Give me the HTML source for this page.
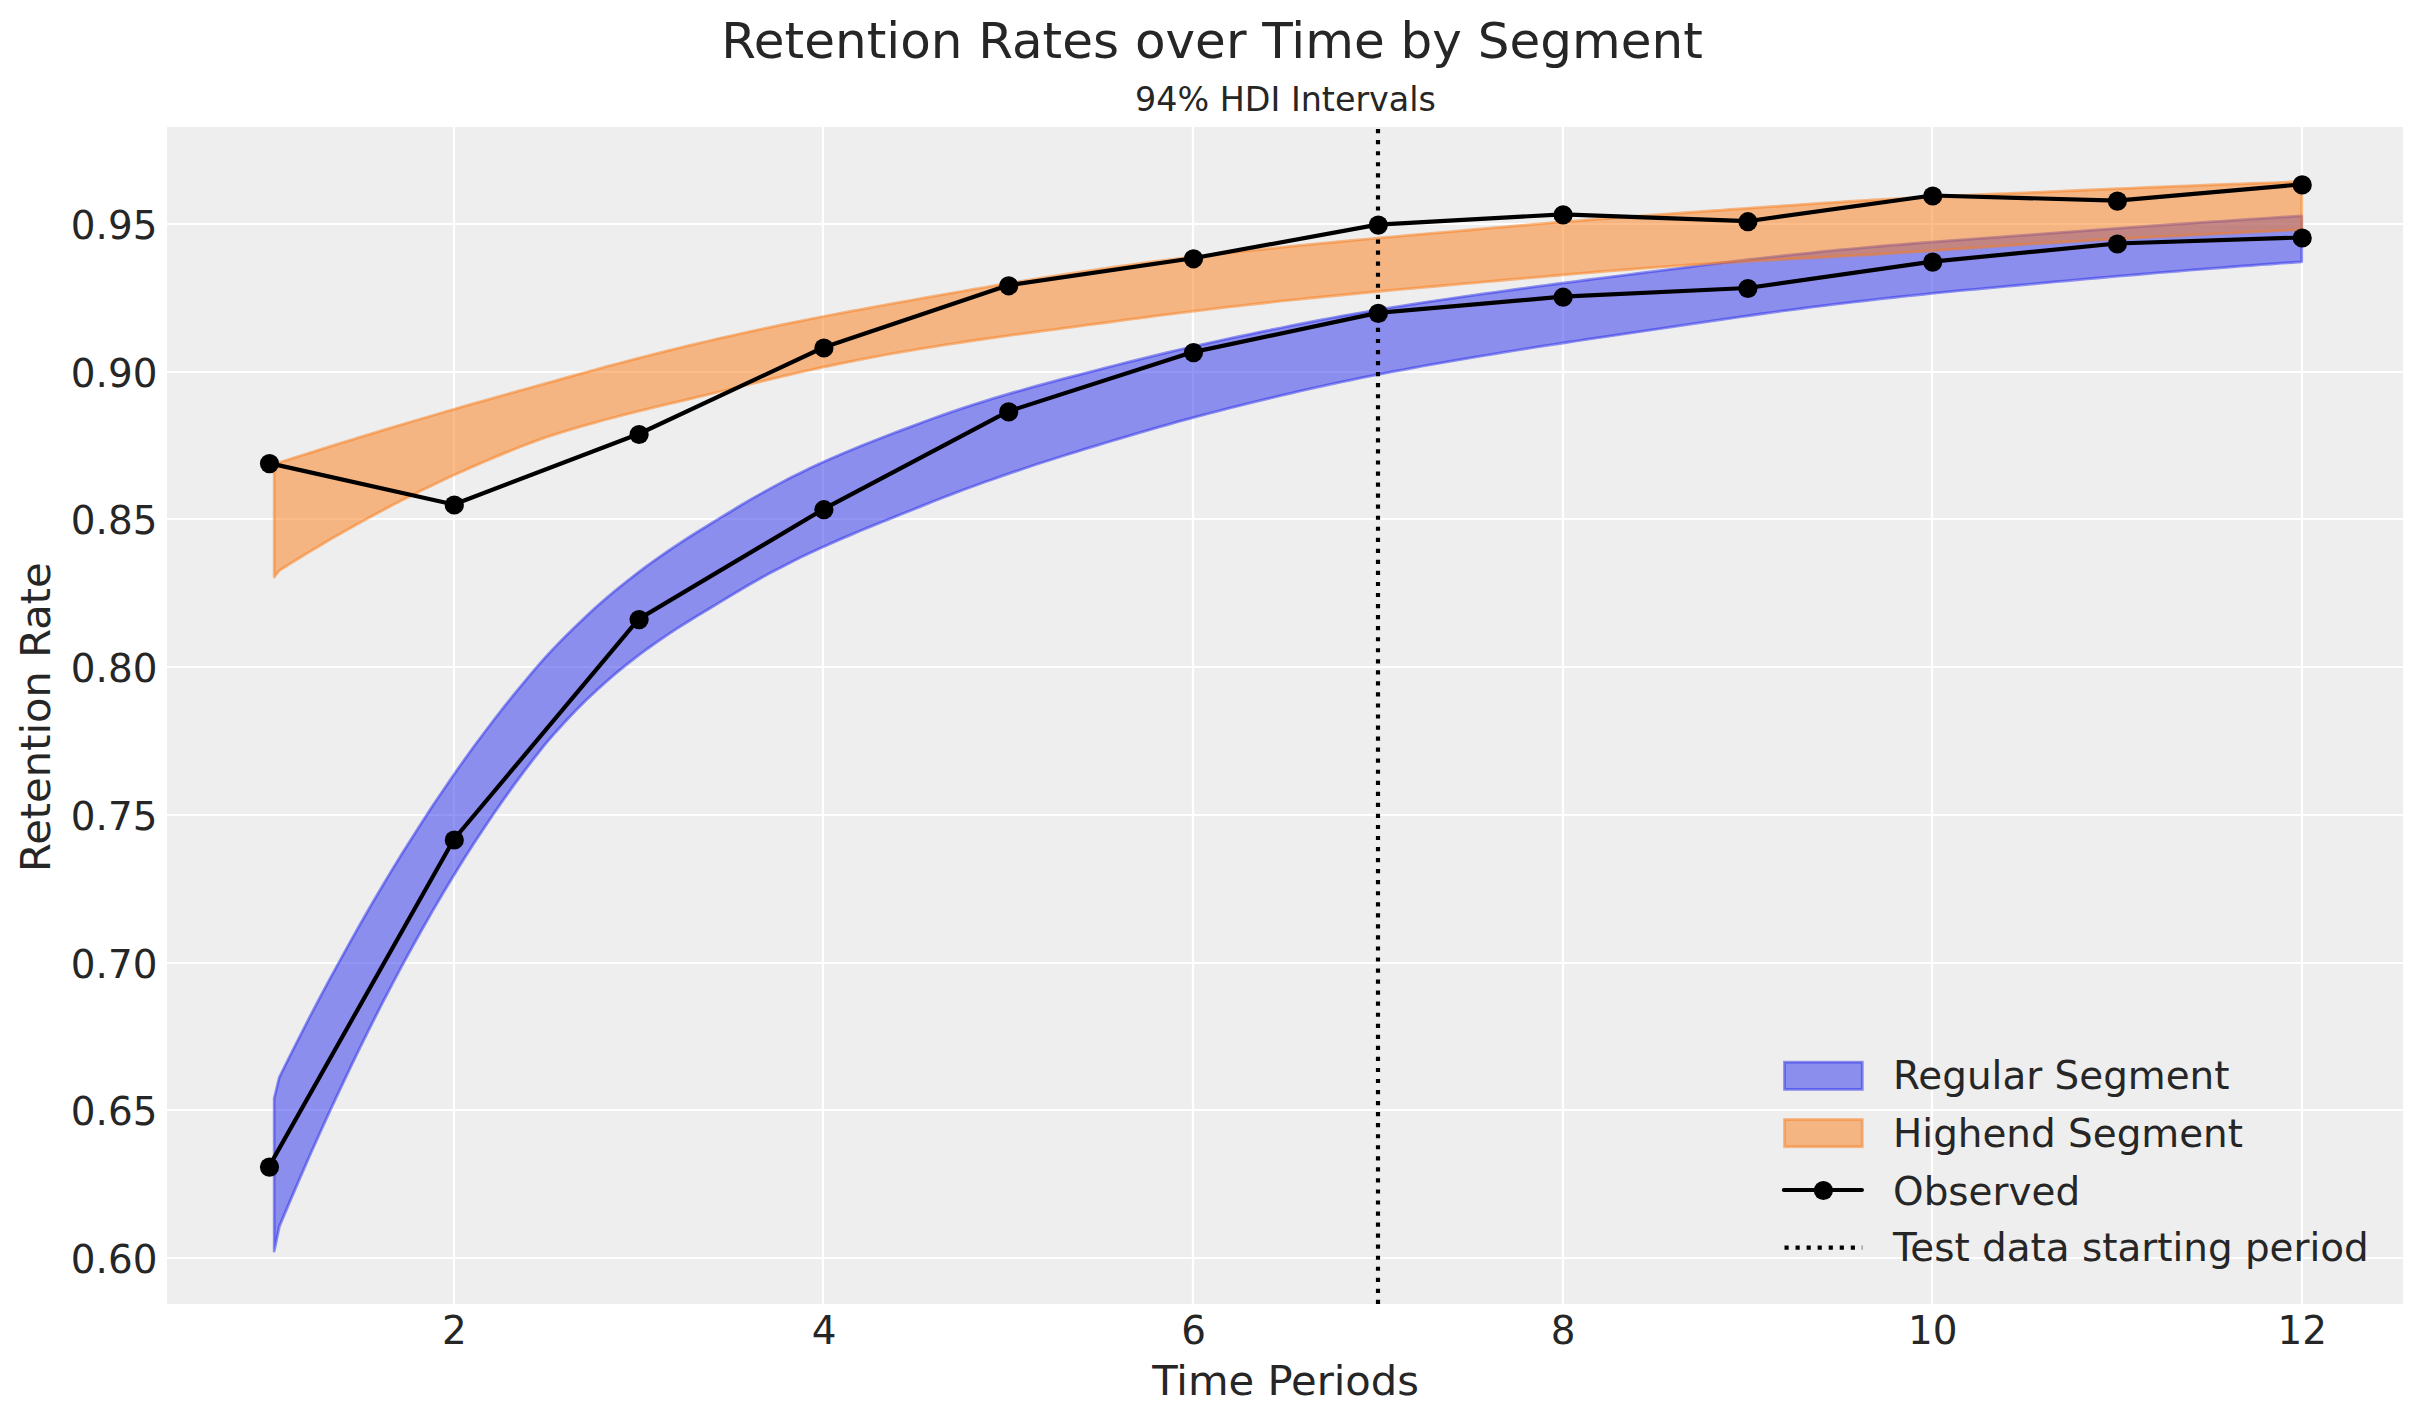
<!DOCTYPE html>
<html><head><meta charset="utf-8"><title>Retention Rates over Time by Segment</title>
<style>html,body{margin:0;padding:0;background:#fff}svg{display:block}text{font-family:"DejaVu Sans","Liberation Sans",sans-serif;fill:#262626}</style></head>
<body>
<svg width="2423" height="1423" viewBox="0 0 2423 1423">
<rect x="0" y="0" width="2423" height="1423" fill="#ffffff"/>
<rect x="167.0" y="127.0" width="2236.0" height="1177.0" fill="#eeeeee"/>
<clipPath id="ax"><rect x="167.0" y="127.0" width="2236.0" height="1177.0"/></clipPath>
<path d="M454 127.0V1304.0M823 127.0V1304.0M1193 127.0V1304.0M1563 127.0V1304.0M1932 127.0V1304.0M2302 127.0V1304.0M167.0 1258H2403.0M167.0 1110H2403.0M167.0 963H2403.0M167.0 815H2403.0M167.0 667H2403.0M167.0 519H2403.0M167.0 372H2403.0M167.0 224H2403.0" stroke="#ffffff" stroke-width="2.22" fill="none"/>
<g clip-path="url(#ax)">
<path d="M274.2 1098.3 L279.3 1077.3 L289.5 1056.8 L299.7 1036.6 L309.9 1016.7 L320.1 997.2 L330.3 978.1 L340.6 959.3 L350.8 940.8 L361.0 922.8 L371.2 905.0 L381.4 887.7 L391.6 870.6 L401.8 854.0 L412.1 837.7 L422.3 821.7 L432.5 806.1 L442.7 790.9 L452.9 776.0 L463.1 761.5 L473.3 747.3 L483.6 733.5 L493.8 720.0 L504.0 706.9 L514.2 694.2 L524.4 681.8 L534.6 669.7 L544.8 658.0 L555.1 646.9 L565.3 636.5 L575.5 626.4 L585.7 616.7 L595.9 607.3 L606.1 598.4 L616.3 589.8 L626.6 581.5 L636.8 573.6 L647.0 565.9 L657.2 558.6 L667.4 551.5 L677.6 544.7 L687.8 538.0 L698.1 531.5 L708.3 525.2 L718.5 518.9 L728.7 512.7 L738.9 506.5 L749.1 500.4 L759.3 494.6 L769.6 488.9 L779.8 483.4 L790.0 478.1 L800.2 473.0 L810.4 468.1 L820.6 463.3 L830.8 458.7 L841.1 454.3 L851.3 450.0 L861.5 445.8 L871.7 441.7 L881.9 437.7 L892.1 433.8 L902.4 429.9 L912.6 426.1 L922.8 422.3 L933.0 418.5 L943.2 414.9 L953.4 411.4 L963.6 407.9 L973.9 404.6 L984.1 401.4 L994.3 398.2 L1004.5 395.2 L1014.7 392.2 L1024.9 389.3 L1035.1 386.4 L1045.4 383.7 L1055.6 380.9 L1065.8 378.2 L1076.0 375.6 L1086.2 372.9 L1096.4 370.3 L1106.6 367.7 L1116.9 365.0 L1127.1 362.4 L1137.3 359.9 L1147.5 357.4 L1157.7 354.9 L1167.9 352.4 L1178.1 350.0 L1188.4 347.7 L1198.6 345.4 L1208.8 343.1 L1219.0 340.8 L1229.2 338.6 L1239.4 336.4 L1249.6 334.3 L1259.9 332.1 L1270.1 330.0 L1280.3 328.0 L1290.5 325.9 L1300.7 323.9 L1310.9 321.9 L1321.1 319.9 L1331.4 318.0 L1341.6 316.1 L1351.8 314.3 L1362.0 312.5 L1372.2 310.8 L1382.4 309.1 L1392.6 307.4 L1402.9 305.8 L1413.1 304.2 L1423.3 302.6 L1433.5 301.1 L1443.7 299.6 L1453.9 298.1 L1464.1 296.6 L1474.4 295.2 L1484.6 293.7 L1494.8 292.3 L1505.0 290.9 L1515.2 289.5 L1525.4 288.1 L1535.7 286.7 L1545.9 285.4 L1556.1 284.0 L1566.3 282.7 L1576.5 281.4 L1586.7 280.0 L1596.9 278.7 L1607.2 277.4 L1617.4 276.1 L1627.6 274.8 L1637.8 273.5 L1648.0 272.2 L1658.2 270.9 L1668.4 269.6 L1678.7 268.3 L1688.9 267.0 L1699.1 265.7 L1709.3 264.4 L1719.5 263.2 L1729.7 261.9 L1739.9 260.7 L1750.2 259.5 L1760.4 258.3 L1770.6 257.2 L1780.8 256.0 L1791.0 254.9 L1801.2 253.8 L1811.4 252.8 L1821.7 251.7 L1831.9 250.7 L1842.1 249.7 L1852.3 248.8 L1862.5 247.8 L1872.7 246.9 L1882.9 246.0 L1893.2 245.2 L1903.4 244.3 L1913.6 243.5 L1923.8 242.7 L1934.0 241.9 L1944.2 241.1 L1954.4 240.3 L1964.7 239.6 L1974.9 238.8 L1985.1 238.1 L1995.3 237.4 L2005.5 236.6 L2015.7 235.9 L2025.9 235.1 L2036.2 234.4 L2046.4 233.6 L2056.6 232.8 L2066.8 232.1 L2077.0 231.3 L2087.2 230.6 L2097.4 229.8 L2107.7 229.1 L2117.9 228.3 L2128.1 227.6 L2138.3 226.9 L2148.5 226.2 L2158.7 225.4 L2169.0 224.7 L2179.2 224.0 L2189.4 223.3 L2199.6 222.6 L2209.8 221.9 L2220.0 221.3 L2230.2 220.6 L2240.5 219.9 L2250.7 219.2 L2260.9 218.6 L2271.1 217.9 L2281.3 217.2 L2291.5 216.6 L2301.7 215.9 L2301.7 261.8 L2291.5 262.5 L2281.3 263.2 L2271.1 264.0 L2260.9 264.7 L2250.7 265.5 L2240.5 266.2 L2230.2 267.0 L2220.0 267.8 L2209.8 268.6 L2199.6 269.4 L2189.4 270.2 L2179.2 271.1 L2169.0 271.9 L2158.7 272.7 L2148.5 273.6 L2138.3 274.5 L2128.1 275.3 L2117.9 276.2 L2107.7 277.1 L2097.4 278.0 L2087.2 278.9 L2077.0 279.8 L2066.8 280.8 L2056.6 281.7 L2046.4 282.7 L2036.2 283.6 L2025.9 284.6 L2015.7 285.5 L2005.5 286.4 L1995.3 287.4 L1985.1 288.3 L1974.9 289.3 L1964.7 290.2 L1954.4 291.2 L1944.2 292.2 L1934.0 293.2 L1923.8 294.3 L1913.6 295.3 L1903.4 296.4 L1893.2 297.5 L1882.9 298.6 L1872.7 299.8 L1862.5 301.0 L1852.3 302.2 L1842.1 303.4 L1831.9 304.6 L1821.7 305.9 L1811.4 307.2 L1801.2 308.5 L1791.0 309.9 L1780.8 311.2 L1770.6 312.6 L1760.4 314.0 L1750.2 315.5 L1739.9 316.9 L1729.7 318.4 L1719.5 319.8 L1709.3 321.3 L1699.1 322.8 L1688.9 324.3 L1678.7 325.8 L1668.4 327.4 L1658.2 328.9 L1648.0 330.4 L1637.8 331.9 L1627.6 333.4 L1617.4 334.9 L1607.2 336.4 L1596.9 337.9 L1586.7 339.4 L1576.5 341.0 L1566.3 342.5 L1556.1 344.1 L1545.9 345.6 L1535.7 347.2 L1525.4 348.8 L1515.2 350.5 L1505.0 352.1 L1494.8 353.8 L1484.6 355.5 L1474.4 357.2 L1464.1 358.9 L1453.9 360.7 L1443.7 362.4 L1433.5 364.2 L1423.3 366.0 L1413.1 367.9 L1402.9 369.8 L1392.6 371.7 L1382.4 373.7 L1372.2 375.7 L1362.0 377.7 L1351.8 379.8 L1341.6 381.9 L1331.4 384.1 L1321.1 386.3 L1310.9 388.6 L1300.7 390.9 L1290.5 393.3 L1280.3 395.7 L1270.1 398.2 L1259.9 400.6 L1249.6 403.1 L1239.4 405.7 L1229.2 408.2 L1219.0 410.8 L1208.8 413.5 L1198.6 416.2 L1188.4 418.9 L1178.1 421.7 L1167.9 424.6 L1157.7 427.4 L1147.5 430.4 L1137.3 433.3 L1127.1 436.4 L1116.9 439.4 L1106.6 442.5 L1096.4 445.6 L1086.2 448.7 L1076.0 451.9 L1065.8 455.0 L1055.6 458.3 L1045.4 461.5 L1035.1 464.8 L1024.9 468.2 L1014.7 471.6 L1004.5 475.1 L994.3 478.7 L984.1 482.3 L973.9 486.0 L963.6 489.8 L953.4 493.6 L943.2 497.5 L933.0 501.5 L922.8 505.6 L912.6 509.8 L902.4 513.8 L892.1 517.9 L881.9 522.0 L871.7 526.1 L861.5 530.3 L851.3 534.6 L841.1 538.9 L830.8 543.4 L820.6 548.0 L810.4 552.7 L800.2 557.6 L790.0 562.7 L779.8 567.9 L769.6 573.3 L759.3 579.0 L749.1 584.8 L738.9 590.8 L728.7 596.9 L718.5 603.1 L708.3 609.2 L698.1 615.4 L687.8 621.7 L677.6 628.1 L667.4 634.8 L657.2 641.8 L647.0 649.0 L636.8 656.6 L626.6 664.6 L616.3 672.9 L606.1 681.7 L595.9 690.9 L585.7 700.6 L575.5 710.8 L565.3 721.5 L555.1 732.7 L544.8 744.7 L534.6 757.6 L524.4 770.9 L514.2 784.6 L504.0 798.9 L493.8 813.5 L483.6 828.7 L473.3 844.3 L463.1 860.3 L452.9 876.8 L442.7 893.7 L432.5 911.1 L422.3 929.0 L412.1 947.3 L401.8 966.1 L391.6 985.3 L381.4 1004.9 L371.2 1025.1 L361.0 1045.6 L350.8 1066.7 L340.6 1088.2 L330.3 1110.1 L320.1 1132.5 L309.9 1155.3 L299.7 1178.6 L289.5 1202.4 L279.3 1226.6 L274.2 1251.2Z" fill="#2a2eec" fill-opacity="0.5" stroke="#2a2eec" stroke-opacity="0.5" stroke-width="2.78" stroke-linejoin="round"/>
<path d="M274.2 465.8 L279.3 462.5 L289.5 459.3 L299.7 456.0 L309.9 452.8 L320.1 449.6 L330.3 446.4 L340.6 443.2 L350.8 440.1 L361.0 436.9 L371.2 433.8 L381.4 430.7 L391.6 427.6 L401.8 424.6 L412.1 421.5 L422.3 418.5 L432.5 415.5 L442.7 412.5 L452.9 409.6 L463.1 406.6 L473.3 403.7 L483.6 400.8 L493.8 397.9 L504.0 395.0 L514.2 392.2 L524.4 389.3 L534.6 386.5 L544.8 383.7 L555.1 380.8 L565.3 377.9 L575.5 375.1 L585.7 372.3 L595.9 369.5 L606.1 366.7 L616.3 364.0 L626.6 361.3 L636.8 358.6 L647.0 356.0 L657.2 353.4 L667.4 350.8 L677.6 348.3 L687.8 345.8 L698.1 343.4 L708.3 341.0 L718.5 338.6 L728.7 336.3 L738.9 334.0 L749.1 331.8 L759.3 329.6 L769.6 327.4 L779.8 325.2 L790.0 323.1 L800.2 321.1 L810.4 319.0 L820.6 317.0 L830.8 315.0 L841.1 313.1 L851.3 311.2 L861.5 309.3 L871.7 307.4 L881.9 305.5 L892.1 303.7 L902.4 301.8 L912.6 300.0 L922.8 298.2 L933.0 296.4 L943.2 294.6 L953.4 292.8 L963.6 291.0 L973.9 289.2 L984.1 287.5 L994.3 285.7 L1004.5 284.0 L1014.7 282.3 L1024.9 280.7 L1035.1 279.0 L1045.4 277.4 L1055.6 275.8 L1065.8 274.2 L1076.0 272.7 L1086.2 271.2 L1096.4 269.7 L1106.6 268.2 L1116.9 266.7 L1127.1 265.3 L1137.3 263.9 L1147.5 262.5 L1157.7 261.2 L1167.9 259.9 L1178.1 258.7 L1188.4 257.4 L1198.6 256.2 L1208.8 255.0 L1219.0 253.9 L1229.2 252.8 L1239.4 251.6 L1249.6 250.6 L1259.9 249.5 L1270.1 248.5 L1280.3 247.4 L1290.5 246.4 L1300.7 245.4 L1310.9 244.4 L1321.1 243.4 L1331.4 242.5 L1341.6 241.5 L1351.8 240.5 L1362.0 239.6 L1372.2 238.7 L1382.4 237.7 L1392.6 236.8 L1402.9 235.9 L1413.1 235.0 L1423.3 234.1 L1433.5 233.2 L1443.7 232.3 L1453.9 231.4 L1464.1 230.5 L1474.4 229.5 L1484.6 228.6 L1494.8 227.7 L1505.0 226.8 L1515.2 225.9 L1525.4 225.1 L1535.7 224.2 L1545.9 223.3 L1556.1 222.5 L1566.3 221.7 L1576.5 220.9 L1586.7 220.0 L1596.9 219.2 L1607.2 218.5 L1617.4 217.7 L1627.6 216.9 L1637.8 216.2 L1648.0 215.4 L1658.2 214.7 L1668.4 214.0 L1678.7 213.2 L1688.9 212.5 L1699.1 211.7 L1709.3 211.0 L1719.5 210.3 L1729.7 209.5 L1739.9 208.8 L1750.2 208.1 L1760.4 207.4 L1770.6 206.7 L1780.8 206.0 L1791.0 205.3 L1801.2 204.6 L1811.4 203.9 L1821.7 203.2 L1831.9 202.6 L1842.1 201.9 L1852.3 201.2 L1862.5 200.6 L1872.7 200.0 L1882.9 199.4 L1893.2 198.8 L1903.4 198.3 L1913.6 197.8 L1923.8 197.2 L1934.0 196.7 L1944.2 196.2 L1954.4 195.8 L1964.7 195.3 L1974.9 194.9 L1985.1 194.4 L1995.3 194.0 L2005.5 193.6 L2015.7 193.2 L2025.9 192.8 L2036.2 192.3 L2046.4 191.8 L2056.6 191.4 L2066.8 190.9 L2077.0 190.5 L2087.2 190.0 L2097.4 189.6 L2107.7 189.1 L2117.9 188.7 L2128.1 188.3 L2138.3 187.8 L2148.5 187.4 L2158.7 187.0 L2169.0 186.6 L2179.2 186.2 L2189.4 185.8 L2199.6 185.4 L2209.8 185.0 L2220.0 184.6 L2230.2 184.2 L2240.5 183.9 L2250.7 183.5 L2260.9 183.1 L2271.1 182.8 L2281.3 182.4 L2291.5 182.0 L2301.7 181.7 L2301.7 229.8 L2291.5 230.2 L2281.3 230.7 L2271.1 231.2 L2260.9 231.7 L2250.7 232.2 L2240.5 232.7 L2230.2 233.2 L2220.0 233.7 L2209.8 234.2 L2199.6 234.7 L2189.4 235.2 L2179.2 235.8 L2169.0 236.3 L2158.7 236.8 L2148.5 237.4 L2138.3 237.9 L2128.1 238.5 L2117.9 239.0 L2107.7 239.6 L2097.4 240.2 L2087.2 240.7 L2077.0 241.3 L2066.8 241.9 L2056.6 242.5 L2046.4 243.1 L2036.2 243.7 L2025.9 244.3 L2015.7 245.0 L2005.5 245.7 L1995.3 246.4 L1985.1 247.1 L1974.9 247.8 L1964.7 248.5 L1954.4 249.2 L1944.2 249.9 L1934.0 250.6 L1923.8 251.3 L1913.6 251.9 L1903.4 252.6 L1893.2 253.2 L1882.9 253.9 L1872.7 254.5 L1862.5 255.1 L1852.3 255.7 L1842.1 256.2 L1831.9 256.8 L1821.7 257.3 L1811.4 257.9 L1801.2 258.4 L1791.0 258.9 L1780.8 259.5 L1770.6 260.1 L1760.4 260.6 L1750.2 261.2 L1739.9 261.8 L1729.7 262.4 L1719.5 263.0 L1709.3 263.6 L1699.1 264.3 L1688.9 264.9 L1678.7 265.6 L1668.4 266.4 L1658.2 267.1 L1648.0 267.9 L1637.8 268.7 L1627.6 269.5 L1617.4 270.3 L1607.2 271.1 L1596.9 272.0 L1586.7 272.9 L1576.5 273.7 L1566.3 274.6 L1556.1 275.5 L1545.9 276.4 L1535.7 277.3 L1525.4 278.2 L1515.2 279.1 L1505.0 280.0 L1494.8 281.0 L1484.6 281.9 L1474.4 282.8 L1464.1 283.7 L1453.9 284.6 L1443.7 285.5 L1433.5 286.5 L1423.3 287.4 L1413.1 288.3 L1402.9 289.2 L1392.6 290.1 L1382.4 291.1 L1372.2 292.0 L1362.0 293.0 L1351.8 294.0 L1341.6 295.0 L1331.4 296.0 L1321.1 297.0 L1310.9 298.0 L1300.7 299.1 L1290.5 300.2 L1280.3 301.2 L1270.1 302.3 L1259.9 303.5 L1249.6 304.6 L1239.4 305.8 L1229.2 306.9 L1219.0 308.1 L1208.8 309.3 L1198.6 310.6 L1188.4 311.8 L1178.1 313.1 L1167.9 314.4 L1157.7 315.7 L1147.5 317.0 L1137.3 318.4 L1127.1 319.7 L1116.9 321.1 L1106.6 322.5 L1096.4 323.9 L1086.2 325.2 L1076.0 326.6 L1065.8 327.9 L1055.6 329.3 L1045.4 330.6 L1035.1 332.0 L1024.9 333.4 L1014.7 334.7 L1004.5 336.2 L994.3 337.6 L984.1 339.0 L973.9 340.5 L963.6 342.0 L953.4 343.6 L943.2 345.2 L933.0 346.8 L922.8 348.4 L912.6 350.1 L902.4 351.8 L892.1 353.6 L881.9 355.5 L871.7 357.4 L861.5 359.3 L851.3 361.4 L841.1 363.4 L830.8 365.6 L820.6 367.7 L810.4 370.0 L800.2 372.2 L790.0 374.6 L779.8 377.0 L769.6 379.4 L759.3 381.9 L749.1 384.4 L738.9 386.9 L728.7 389.5 L718.5 392.0 L708.3 394.5 L698.1 396.9 L687.8 399.4 L677.6 401.8 L667.4 404.2 L657.2 406.6 L647.0 409.1 L636.8 411.6 L626.6 414.2 L616.3 416.8 L606.1 419.5 L595.9 422.3 L585.7 425.2 L575.5 428.1 L565.3 431.2 L555.1 434.3 L544.8 437.6 L534.6 441.4 L524.4 445.3 L514.2 449.3 L504.0 453.4 L493.8 457.6 L483.6 462.0 L473.3 466.4 L463.1 470.9 L452.9 475.6 L442.7 480.3 L432.5 485.2 L422.3 490.1 L412.1 495.2 L401.8 500.3 L391.6 505.6 L381.4 511.0 L371.2 516.5 L361.0 522.1 L350.8 527.7 L340.6 533.5 L330.3 539.4 L320.1 545.5 L309.9 551.6 L299.7 557.8 L289.5 564.1 L279.3 570.5 L274.2 577.1Z" fill="#fa7c17" fill-opacity="0.5" stroke="#fa7c17" stroke-opacity="0.5" stroke-width="2.78" stroke-linejoin="round"/>
<path d="M269.0 1166.6 L453.8 839.5 L638.6 619.1 L823.4 509.2 L1008.2 411.4 L1193.0 352.1 L1377.8 312.9 L1562.6 296.7 L1747.4 288.0 L1932.2 261.6 L2116.9 243.5 L2301.7 237.5" fill="none" stroke="#000" stroke-width="4.17" stroke-linejoin="round" stroke-linecap="round"/>
<g fill="#000"><circle cx="269.5" cy="1167.1" r="9.6"/><circle cx="454.3" cy="840.0" r="9.6"/><circle cx="639.1" cy="619.6" r="9.6"/><circle cx="823.9" cy="509.7" r="9.6"/><circle cx="1008.7" cy="411.9" r="9.6"/><circle cx="1193.5" cy="352.6" r="9.6"/><circle cx="1378.3" cy="313.4" r="9.6"/><circle cx="1563.1" cy="297.2" r="9.6"/><circle cx="1747.9" cy="288.5" r="9.6"/><circle cx="1932.7" cy="262.1" r="9.6"/><circle cx="2117.4" cy="244.0" r="9.6"/><circle cx="2302.2" cy="238.0" r="9.6"/></g>
<path d="M269.0 463.1 L453.8 504.5 L638.6 434.0 L823.4 347.5 L1008.2 285.3 L1193.0 258.3 L1377.8 224.6 L1562.6 214.4 L1747.4 221.2 L1932.2 195.5 L2116.9 200.6 L2301.7 184.4" fill="none" stroke="#000" stroke-width="4.17" stroke-linejoin="round" stroke-linecap="round"/>
<g fill="#000"><circle cx="269.5" cy="463.6" r="9.6"/><circle cx="454.3" cy="505.0" r="9.6"/><circle cx="639.1" cy="434.5" r="9.6"/><circle cx="823.9" cy="348.0" r="9.6"/><circle cx="1008.7" cy="285.8" r="9.6"/><circle cx="1193.5" cy="258.8" r="9.6"/><circle cx="1378.3" cy="225.1" r="9.6"/><circle cx="1563.1" cy="214.9" r="9.6"/><circle cx="1747.9" cy="221.7" r="9.6"/><circle cx="1932.7" cy="196.0" r="9.6"/><circle cx="2117.4" cy="201.1" r="9.6"/><circle cx="2302.2" cy="184.9" r="9.6"/></g>
<path d="M1378.00 1304.0V127.0" stroke="#000" stroke-width="4.17" stroke-dasharray="4.17 6.875" fill="none"/>
</g>
<text x="454.4" y="1344.1" font-size="38.89" text-anchor="middle">2</text>
<text x="824.0" y="1344.1" font-size="38.89" text-anchor="middle">4</text>
<text x="1193.6" y="1344.1" font-size="38.89" text-anchor="middle">6</text>
<text x="1563.2" y="1344.1" font-size="38.89" text-anchor="middle">8</text>
<text x="1932.8" y="1344.1" font-size="38.89" text-anchor="middle">10</text>
<text x="2302.3" y="1344.1" font-size="38.89" text-anchor="middle">12</text>
<text x="157.4" y="1273.0" font-size="38.89" text-anchor="end">0.60</text>
<text x="157.4" y="1125.0" font-size="38.89" text-anchor="end">0.65</text>
<text x="157.4" y="978.0" font-size="38.89" text-anchor="end">0.70</text>
<text x="157.4" y="830.0" font-size="38.89" text-anchor="end">0.75</text>
<text x="157.4" y="682.0" font-size="38.89" text-anchor="end">0.80</text>
<text x="157.4" y="534.0" font-size="38.89" text-anchor="end">0.85</text>
<text x="157.4" y="387.0" font-size="38.89" text-anchor="end">0.90</text>
<text x="157.4" y="239.0" font-size="38.89" text-anchor="end">0.95</text>
<text x="1285.6" y="1395.1" font-size="41.67" text-anchor="middle">Time Periods</text>
<text transform="translate(49.9 717.1) rotate(-90)" font-size="41.67" text-anchor="middle">Retention Rate</text>
<text x="1212.1" y="58.2" font-size="50" text-anchor="middle">Retention Rates over Time by Segment</text>
<text x="1285.5" y="111.3" font-size="33.33" text-anchor="middle">94% HDI Intervals</text>
<rect x="1784.5" y="1062.2" width="77.8" height="27.2" fill="#2a2eec" fill-opacity="0.5" stroke="#2a2eec" stroke-opacity="0.5" stroke-width="2.78"/>
<rect x="1784.5" y="1119.5" width="77.8" height="27.2" fill="#fa7c17" fill-opacity="0.5" stroke="#fa7c17" stroke-opacity="0.5" stroke-width="2.78"/>
<path d="M1783.9 1190.0H1861.9" stroke="#000" stroke-width="4.17" stroke-linecap="round"/>
<circle cx="1823.4" cy="1190.5" r="9.6" fill="#000"/>
<path d="M1784.5 1247.6H1862.3" stroke="#000" stroke-width="4.17" stroke-dasharray="4.17 6.875"/>
<text x="1893.1" y="1088.8" font-size="38.89">Regular Segment</text>
<text x="1893.1" y="1147.2" font-size="38.89">Highend Segment</text>
<text x="1893.1" y="1205.0" font-size="38.89">Observed</text>
<text x="1893.1" y="1260.7" font-size="38.89">Test data starting period</text>
</svg>
</body></html>
